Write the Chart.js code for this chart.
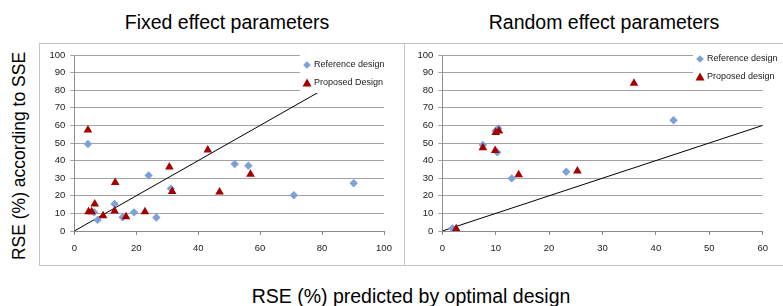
<!DOCTYPE html>
<html>
<head>
<meta charset="utf-8">
<script src="https://cdn.jsdelivr.net/npm/chart.js@4.4.1/dist/chart.umd.min.js"></script>
<style>
  body { margin: 0; width: 783px; height: 306px; overflow: hidden; background: #fff; position: relative; font-family: 'Liberation Sans', Arial, sans-serif; }
  .frame { position: absolute; border: 1px solid #c4c4c4; box-sizing: border-box; }
  canvas { position: absolute; }
  .title { position: absolute; width: 400px; text-align: center; font-size: 19.5px; line-height: 20px; color: #000; white-space: nowrap; }
  .ytitle { position: absolute; width: 260px; height: 20px; line-height: 20px; text-align: center; font-size: 17.5px; color: #000; transform: rotate(-90deg); white-space: nowrap; }
</style>
</head>
<body>
<div class="title" style="left:27px; top:12px;">Fixed effect parameters</div>
<div class="title" style="left:404px; top:12px;">Random effect parameters</div>
<div class="title" style="left:211px; top:286px;">RSE (%) predicted by optimal design</div>
<div class="ytitle" style="left:-111px; top:146px;">RSE (%) according to SSE</div>

<div class="frame" style="left:39px; top:43px; width:366px; height:223px;"></div>
<div class="frame" style="left:404px; top:43px; width:390px; height:223px;"></div>

<canvas id="fixedChart" width="365" height="223" style="left:39px; top:43px;"></canvas>
<canvas id="randomChart" width="379" height="223" style="left:404px; top:43px;"></canvas>

<script>
// fixed effect parameters
const fixedRefX = [4.4, 6.4, 7.5, 13.0, 15.6, 19.3, 24.0, 26.5, 31.2, 51.8, 56.2, 70.9, 90.2];
const fixedRefY = [49.4, 10.6, 6.3, 15.3, 7.8, 10.6, 31.6, 7.7, 24.1, 38.1, 37.1, 20.3, 27.1];
const fixedPropX = [4.4, 4.6, 5.6, 6.6, 9.3, 13.0, 13.2, 16.7, 22.8, 30.7, 31.6, 43.1, 46.9, 56.9];
const fixedPropY = [57.4, 11.0, 11.0, 15.3, 8.7, 11.4, 27.5, 8.1, 11.0, 36.4, 22.5, 46.0, 22.2, 32.2];
const fixedLine = [0, 100];

// random effect parameters
const randRefX = [1.9, 7.6, 10.0, 10.5, 10.3, 13.0, 23.2, 43.3];
const randRefY = [1.5, 48.9, 57.0, 58.3, 44.7, 29.9, 33.7, 62.9];
const randPropX = [2.6, 7.6, 10.0, 10.6, 9.9, 14.3, 25.3, 35.9];
const randPropY = [1.3, 47.3, 55.9, 56.8, 45.8, 32.0, 34.1, 83.9];
const randLine = [0, 60];

const refLabel = 'Reference design';
const fixedPropLabel = 'Proposed Design';
const randPropLabel = 'Proposed design';

const REF_COLOR = '#7ca0d9';
const PROP_COLOR = '#a50000';
const GRID = '#a3a3a3';
const AXIS = '#8c8c8c';

Chart.defaults.font.family = "'Liberation Sans', Arial, sans-serif";
Chart.defaults.font.size = 9.5;
Chart.defaults.color = '#1a1a1a';

const toPoints = (xs, ys) => xs.map((x, i) => ({ x, y: ys[i] }));

// excel-like legend box that sits over the plot
const boxLegend = {
  id: 'boxLegend',
  afterDraw(chart, args, opts) {
    const { ctx } = chart;
    ctx.save();
    ctx.fillStyle = '#fff';
    ctx.fillRect(opts.left, opts.top, opts.width, opts.height);
    ctx.font = "9px 'Liberation Sans', Arial, sans-serif";
    ctx.textBaseline = 'middle';
    opts.items.forEach((item, i) => {
      const y = opts.rowY[i];
      const x = opts.markerX;
      ctx.fillStyle = item.color;
      ctx.beginPath();
      if (item.shape === 'diamond') {
        ctx.moveTo(x, y - 3.8);
        ctx.lineTo(x + 3.8, y);
        ctx.lineTo(x, y + 3.8);
        ctx.lineTo(x - 3.8, y);
      } else {
        ctx.moveTo(x, y - 4.5);
        ctx.lineTo(x + 4.5, y + 3.5);
        ctx.lineTo(x - 4.5, y + 3.5);
      }
      ctx.closePath();
      ctx.fill();
      ctx.fillStyle = '#1a1a1a';
      ctx.fillText(item.text, opts.textX, y);
    });
    ctx.restore();
  },
};

function makeChart(id, cfg) {
  return new Chart(document.getElementById(id).getContext('2d'), {
    type: 'scatter',
    data: {
      datasets: [
        {
          label: cfg.propLabel,
          data: toPoints(cfg.propX, cfg.propY),
          pointStyle: 'triangle',
          pointRadius: 5,
          backgroundColor: PROP_COLOR,
          borderColor: PROP_COLOR,
          borderWidth: 0,
          order: 1,
        },
        {
          label: refLabel,
          data: toPoints(cfg.refX, cfg.refY),
          pointStyle: 'rectRot',
          pointRadius: 4.2,
          backgroundColor: REF_COLOR,
          borderColor: REF_COLOR,
          borderWidth: 0,
          order: 2,
        },
        {
          type: 'line',
          label: 'identity',
          data: toPoints(cfg.line, cfg.line),
          borderColor: '#000',
          borderWidth: 1,
          pointRadius: 0,
          fill: false,
          order: 3,
        },
      ],
    },
    options: {
      responsive: false,
      animation: false,
      events: [],
      layout: { padding: { top: 12, right: cfg.padRight, left: 0, bottom: 0 } },
      plugins: {
        legend: { display: false },
        tooltip: { enabled: false },
        boxLegend: cfg.legend,
      },
      scales: {
        x: {
          type: 'linear',
          min: 0,
          max: cfg.xMax,
          afterFit(scale) { scale.height = 35; },
          grid: { drawOnChartArea: false, drawTicks: true, tickLength: 4, color: AXIS },
          border: { display: true, color: AXIS },
          ticks: { stepSize: cfg.xStep, padding: 8, maxRotation: 0 },
        },
        y: {
          min: 0,
          max: 100,
          afterFit(scale) { scale.width = cfg.yWidth; },
          grid: { color: GRID, tickLength: 4 },
          border: { display: true, color: AXIS },
          ticks: { stepSize: 10, padding: 5 },
        },
      },
    },
    plugins: [boxLegend],
  });
}

makeChart('fixedChart', {
  refX: fixedRefX, refY: fixedRefY,
  propX: fixedPropX, propY: fixedPropY,
  propLabel: fixedPropLabel,
  line: fixedLine,
  xMax: 100, xStep: 20,
  yWidth: 35.3, padRight: 20,
  legend: {
    left: 261, top: 9, width: 92, height: 41,
    markerX: 268, textX: 275, rowY: [22, 40],
    items: [
      { shape: 'diamond', color: REF_COLOR, text: refLabel },
      { shape: 'triangle', color: PROP_COLOR, text: fixedPropLabel },
    ],
  },
});

makeChart('randomChart', {
  refX: randRefX, refY: randRefY,
  propX: randPropX, propY: randPropY,
  propLabel: randPropLabel,
  line: randLine,
  xMax: 60, xStep: 10,
  yWidth: 38.3, padRight: 20.3,
  legend: {
    left: 289, top: 9, width: 90, height: 34,
    markerX: 296, textX: 303, rowY: [16, 34],
    items: [
      { shape: 'diamond', color: REF_COLOR, text: refLabel },
      { shape: 'triangle', color: PROP_COLOR, text: randPropLabel },
    ],
  },
});
</script>
</body>
</html>
